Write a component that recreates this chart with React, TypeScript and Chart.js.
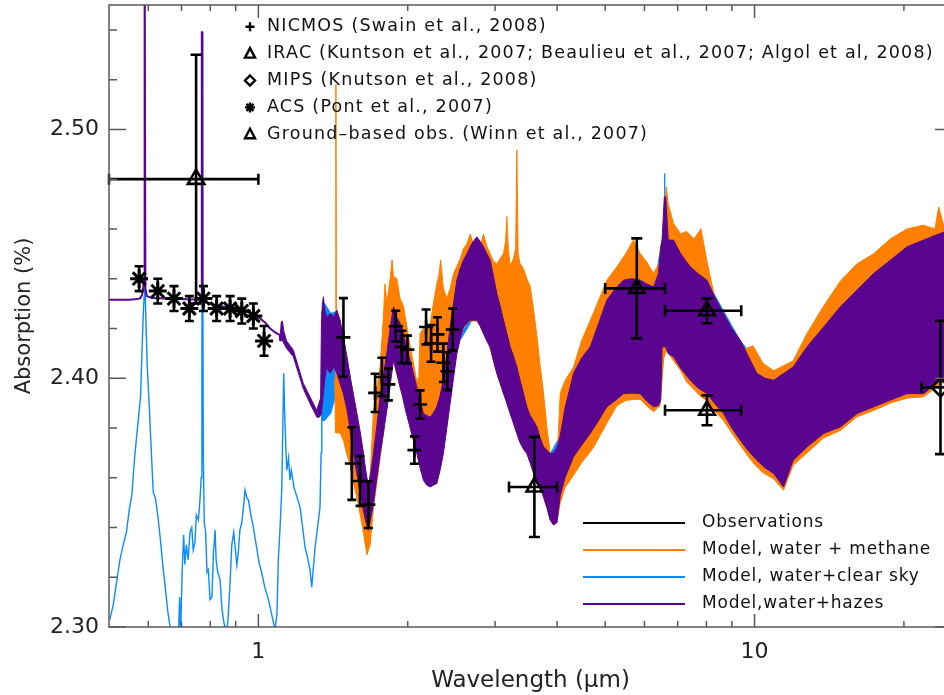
import React, { useEffect, useRef } from 'react';
import { Chart, registerables } from 'chart.js';

Chart.register(...registerables);

// ---------------- axes ----------------
const X_TICKS = [0.6, 0.7, 0.8, 0.9, 1, 2, 3, 4, 5, 6, 7, 8, 9, 10, 20];
const X_LABELED = [1, 10];
const Y_TICKS = [2.30, 2.31, 2.32, 2.33, 2.34, 2.35, 2.36, 2.37, 2.38, 2.39, 2.40, 2.41, 2.42, 2.43, 2.44, 2.45, 2.46, 2.47, 2.48, 2.49, 2.50, 2.51, 2.52, 2.53, 2.54];
const Y_LABELED = [2.30, 2.35, 2.40, 2.45, 2.50];

// ---------------- observations ----------------
const NICMOS_WL = [1.484, 1.543, 1.603, 1.666, 1.719, 1.774, 1.828, 1.892, 1.946, 1.997, 2.063, 2.118, 2.178, 2.229, 2.296, 2.360, 2.404, 2.465];
const NICMOS_ABS = [2.4164, 2.3657, 2.3587, 2.3492, 2.3941, 2.4005, 2.3975, 2.4209, 2.4126, 2.4115, 2.3711, 2.3894, 2.4206, 2.4140, 2.4176, 2.4062, 2.4028, 2.4196];
const NICMOS_ERR = [0.0158, 0.0146, 0.0100, 0.0094, 0.0077, 0.0077, 0.0064, 0.0062, 0.0065, 0.0056, 0.0055, 0.0057, 0.0070, 0.0074, 0.0069, 0.0077, 0.0076, 0.0084];

const ACS_WL = [0.575, 0.627, 0.676, 0.726, 0.775, 0.824, 0.877, 0.926, 0.977, 1.027];
const ACS_ABS = [2.440, 2.435, 2.432, 2.428, 2.432, 2.428, 2.428, 2.427, 2.425, 2.415];
const ACS_ERR = [0.005, 0.005, 0.005, 0.005, 0.005, 0.005, 0.005, 0.005, 0.005, 0.006];

const IRAC_WL = [3.60, 5.79, 8.02, 8.02];
const IRAC_ABS = [2.3563, 2.4361, 2.4271, 2.3871];
const IRAC_ERR = [0.0201, 0.0201, 0.0050, 0.0060];
const IRAC_XLO = [3.20, 5.00, 6.60, 6.60];
const IRAC_XHI = [4.00, 6.60, 9.40, 9.40];

const MIPS_WL = [23.7];
const MIPS_ABS = [2.3963];
const MIPS_ERR = [0.0268];
const MIPS_XLO = [21.7];
const MIPS_XHI = [26.0];

const GB_WL = [0.749];
const GB_ABS = [2.480];
const GB_ERR = [0.050];
const GB_XLO = [0.50];
const GB_XHI = [1.00];

// ---------------- model: water + hazes (purple) ----------------
const PURPLE_LINE_WL = [0.50, 0.55, 0.570, 0.578, 0.583, 0.586, 0.5885, 0.5895, 0.5905, 0.592, 0.596, 0.61, 0.65, 0.70, 0.74, 0.765, 0.768, 0.7692, 0.7700, 0.7715, 0.78, 0.824, 0.86, 0.93, 0.99, 1.03, 1.056, 1.08, 1.10];
const PURPLE_LINE_ABS = [2.4315, 2.4315, 2.4318, 2.4322, 2.4335, 2.4365, 2.440, 2.56, 2.56, 2.436, 2.4330, 2.4322, 2.4320, 2.4318, 2.4316, 2.4314, 2.4320, 2.539, 2.539, 2.4312, 2.4305, 2.4293, 2.4285, 2.4273, 2.4253, 2.4225, 2.4200, 2.4185, 2.4175];

const PURPLE_WL = [1.100, 1.108, 1.112, 1.118, 1.125, 1.140, 1.176, 1.232, 1.271, 1.300, 1.311, 1.325, 1.335, 1.340, 1.346, 1.352, 1.362, 1.374, 1.385, 1.395, 1.420, 1.439, 1.461, 1.484, 1.510, 1.531, 1.555, 1.579, 1.605, 1.628, 1.648, 1.666, 1.685, 1.706, 1.733, 1.760, 1.787, 1.815, 1.843, 1.872, 1.901, 1.946, 1.980, 2.022, 2.053, 2.086, 2.118, 2.151, 2.185, 2.220, 2.253, 2.289, 2.324, 2.360, 2.398, 2.435, 2.473, 2.512, 2.551, 2.590, 2.632, 2.672, 2.713, 2.756, 2.799, 2.842, 2.887, 2.932, 2.977, 3.024, 3.071, 3.119, 3.168, 3.217, 3.266, 3.319, 3.370, 3.422, 3.476, 3.530, 3.584, 3.642, 3.698, 3.756, 3.816, 3.874, 3.936, 3.997, 4.059, 4.150, 4.317, 4.480, 4.665, 4.850, 5.040, 5.240, 5.444, 5.660, 5.884, 6.050, 6.260, 6.400, 6.470, 6.510, 6.580, 6.620, 6.700, 6.866, 7.100, 7.420, 7.700, 8.017, 8.300, 8.660, 9.000, 9.359, 9.700, 10.11, 10.50, 10.93, 11.44, 11.96, 12.76, 13.78, 14.89, 16.09, 17.38, 18.78, 20.29, 21.91, 23.68, 25.00];
const PURPLE_TOP = [2.4175, 2.4180, 2.4226, 2.4230, 2.4190, 2.4150, 2.4113, 2.3979, 2.3925, 2.3885, 2.3871, 2.3900, 2.3920, 2.4220, 2.4300, 2.4327, 2.4270, 2.4246, 2.4250, 2.4260, 2.4246, 2.4273, 2.4233, 2.4166, 2.4080, 2.4005, 2.3930, 2.3858, 2.3780, 2.3697, 2.3620, 2.3563, 2.3620, 2.3697, 2.3810, 2.3925, 2.4010, 2.4099, 2.4200, 2.4287, 2.4246, 2.4206, 2.4140, 2.4072, 2.4020, 2.3965, 2.3910, 2.3858, 2.3850, 2.3844, 2.3860, 2.3885, 2.3930, 2.3992, 2.4100, 2.4206, 2.4300, 2.4394, 2.4440, 2.4474, 2.4500, 2.4528, 2.4550, 2.4568, 2.4550, 2.4528, 2.4500, 2.4474, 2.4410, 2.4341, 2.4290, 2.4233, 2.4180, 2.4126, 2.4090, 2.4045, 2.3990, 2.3940, 2.3885, 2.3850, 2.3830, 2.3804, 2.3760, 2.3724, 2.3710, 2.3697, 2.3700, 2.3720, 2.3770, 2.3880, 2.4019, 2.4080, 2.4126, 2.4220, 2.4314, 2.4360, 2.4394, 2.4400, 2.4394, 2.4380, 2.4367, 2.4420, 2.4528, 2.4555, 2.4729, 2.4729, 2.4555, 2.4555, 2.4500, 2.4448, 2.4420, 2.4394, 2.4330, 2.4260, 2.4200, 2.4153, 2.4090, 2.4019, 2.4000, 2.3992, 2.4019, 2.4045, 2.4126, 2.4206, 2.4287, 2.4354, 2.4421, 2.4474, 2.4528, 2.4555, 2.4582, 2.4600];
const PURPLE_BOT = [2.4155, 2.4150, 2.4150, 2.4153, 2.4140, 2.4120, 2.4086, 2.3958, 2.3898, 2.3860, 2.3844, 2.3842, 2.3850, 2.3859, 2.3900, 2.3938, 2.4000, 2.4045, 2.4030, 2.4020, 2.4045, 2.4020, 2.3979, 2.3938, 2.3870, 2.3791, 2.3700, 2.3617, 2.3540, 2.3469, 2.3420, 2.3389, 2.3440, 2.3496, 2.3600, 2.3697, 2.3780, 2.3871, 2.3970, 2.4072, 2.4019, 2.3938, 2.3870, 2.3804, 2.3750, 2.3697, 2.3640, 2.3590, 2.3570, 2.3563, 2.3570, 2.3577, 2.3630, 2.3697, 2.3800, 2.3898, 2.4000, 2.4099, 2.4160, 2.4206, 2.4220, 2.4233, 2.4233, 2.4233, 2.4210, 2.4180, 2.4150, 2.4126, 2.4070, 2.4019, 2.3980, 2.3938, 2.3900, 2.3858, 2.3820, 2.3778, 2.3740, 2.3715, 2.3697, 2.3660, 2.3620, 2.3590, 2.3560, 2.3523, 2.3480, 2.3429, 2.3410, 2.3420, 2.3530, 2.3600, 2.3684, 2.3730, 2.3778, 2.3830, 2.3885, 2.3910, 2.3938, 2.3940, 2.3938, 2.3910, 2.3885, 2.3890, 2.3912, 2.4126, 2.4126, 2.4126, 2.4099, 2.4086, 2.4040, 2.3992, 2.3960, 2.3938, 2.3900, 2.3858, 2.3800, 2.3751, 2.3710, 2.3670, 2.3640, 2.3617, 2.3563, 2.3670, 2.3724, 2.3778, 2.3804, 2.3858, 2.3885, 2.3912, 2.3938, 2.3938, 2.3992, 2.4000];

// ---------------- model: water + methane (orange) ----------------
const ORANGE_WL = [1.425, 1.430, 1.433, 1.436, 1.461, 1.484, 1.505, 1.531, 1.555, 1.579, 1.605, 1.628, 1.655, 1.680, 1.706, 1.733, 1.760, 1.787, 1.800, 1.815, 1.843, 1.860, 1.872, 1.901, 1.930, 1.961, 2.022, 2.086, 2.105, 2.118, 2.151, 2.185, 2.220, 2.253, 2.289, 2.310, 2.330, 2.360, 2.398, 2.435, 2.473, 2.512, 2.551, 2.590, 2.632, 2.672, 2.713, 2.756, 2.799, 2.842, 2.887, 2.932, 2.977, 3.024, 3.071, 3.119, 3.150, 3.168, 3.190, 3.217, 3.266, 3.300, 3.319, 3.338, 3.370, 3.422, 3.476, 3.530, 3.584, 3.642, 3.698, 3.756, 3.816, 3.874, 3.936, 3.997, 4.059, 4.150, 4.317, 4.480, 4.730, 5.040, 5.280, 5.500, 5.700, 5.884, 6.050, 6.260, 6.450, 6.560, 6.640, 6.700, 6.866, 7.100, 7.300, 7.550, 7.800, 8.017, 8.300, 8.660, 9.000, 9.359, 9.930, 10.40, 10.93, 11.44, 11.96, 12.76, 13.78, 14.89, 16.09, 17.38, 18.78, 20.29, 21.91, 23.10, 23.50, 24.00, 25.00];
const ORANGE_TOP = [2.4240, 2.4250, 2.5180, 2.4280, 2.4230, 2.4120, 2.4060, 2.4000, 2.3930, 2.3860, 2.3780, 2.3700, 2.3560, 2.3600, 2.3870, 2.3960, 2.4050, 2.4250, 2.4380, 2.4300, 2.4400, 2.4475, 2.4410, 2.4400, 2.4320, 2.4290, 2.4130, 2.3990, 2.4000, 2.4180, 2.4200, 2.4190, 2.4220, 2.4300, 2.4380, 2.4410, 2.4475, 2.4360, 2.4320, 2.4360, 2.4420, 2.4450, 2.4480, 2.4520, 2.4540, 2.4580, 2.4540, 2.4550, 2.4530, 2.4580, 2.4530, 2.4500, 2.4470, 2.4460, 2.4480, 2.4500, 2.4550, 2.4650, 2.4520, 2.4450, 2.4480, 2.4520, 2.4917, 2.4500, 2.4460, 2.4440, 2.4400, 2.4370, 2.4280, 2.4170, 2.4050, 2.3940, 2.3800, 2.3700, 2.3660, 2.3660, 2.3940, 2.3990, 2.4045, 2.4150, 2.4260, 2.4394, 2.4448, 2.4500, 2.4555, 2.4501, 2.4470, 2.4421, 2.4470, 2.4600, 2.4769, 2.4700, 2.4622, 2.4580, 2.4590, 2.4560, 2.4600, 2.4470, 2.4330, 2.4200, 2.4160, 2.4110, 2.4130, 2.4060, 2.4030, 2.4050, 2.4070, 2.4180, 2.4290, 2.4390, 2.4460, 2.4500, 2.4560, 2.4600, 2.4615, 2.4600, 2.4689, 2.4620, 2.4620];
const ORANGE_BOT = [2.4000, 2.3800, 2.3780, 2.3780, 2.3780, 2.3750, 2.3700, 2.3650, 2.3580, 2.3520, 2.3450, 2.3380, 2.3290, 2.3330, 2.3480, 2.3580, 2.3680, 2.3780, 2.3850, 2.3880, 2.3970, 2.4050, 2.4070, 2.4020, 2.3960, 2.3920, 2.3800, 2.3700, 2.3700, 2.3750, 2.3750, 2.3760, 2.3780, 2.3780, 2.3780, 2.3790, 2.3800, 2.3850, 2.3900, 2.3950, 2.4050, 2.4100, 2.4160, 2.4200, 2.4220, 2.4230, 2.4230, 2.4230, 2.4210, 2.4180, 2.4150, 2.4120, 2.4070, 2.4020, 2.3980, 2.3940, 2.3920, 2.3900, 2.3880, 2.3860, 2.3820, 2.3790, 2.3780, 2.3760, 2.3740, 2.3720, 2.3700, 2.3660, 2.3620, 2.3590, 2.3560, 2.3520, 2.3480, 2.3430, 2.3410, 2.3420, 2.3500, 2.3560, 2.3610, 2.3660, 2.3720, 2.3820, 2.3890, 2.3910, 2.3915, 2.3915, 2.3890, 2.3865, 2.3890, 2.4080, 2.4110, 2.4100, 2.4070, 2.4030, 2.3985, 2.3955, 2.3925, 2.3910, 2.3870, 2.3830, 2.3780, 2.3730, 2.3660, 2.3620, 2.3595, 2.3550, 2.3650, 2.3700, 2.3760, 2.3790, 2.3845, 2.3870, 2.3900, 2.3920, 2.3925, 2.3960, 2.3970, 2.3985, 2.3990];

// ---------------- model: water + clear sky (blue) ----------------
const BLUE_LINE_WL = [0.502, 0.510, 0.518, 0.526, 0.534, 0.542, 0.550, 0.556, 0.562, 0.568, 0.574, 0.579, 0.583, 0.586, 0.5885, 0.5895, 0.5905, 0.592, 0.597, 0.603, 0.607, 0.614, 0.620, 0.627, 0.634, 0.641, 0.649, 0.657, 0.664, 0.672, 0.682, 0.690, 0.694, 0.697, 0.702, 0.707, 0.711, 0.716, 0.722, 0.728, 0.734, 0.739, 0.745, 0.750, 0.757, 0.762, 0.767, 0.7695, 0.7705, 0.7725, 0.7745, 0.778, 0.783, 0.788, 0.793, 0.799, 0.806, 0.812, 0.818, 0.822, 0.828, 0.837, 0.845, 0.852, 0.860, 0.868, 0.876, 0.884, 0.892, 0.898, 0.905, 0.911, 0.918, 0.926, 0.933, 0.940, 0.948, 0.955, 0.966, 0.977, 0.990, 1.003, 1.015, 1.030, 1.048, 1.064, 1.080, 1.090, 1.097, 1.106, 1.115, 1.120, 1.125, 1.130, 1.136, 1.141, 1.150, 1.158, 1.165, 1.180, 1.197, 1.214, 1.228, 1.242, 1.256, 1.271, 1.281, 1.291, 1.301, 1.316, 1.331, 1.338, 1.342, 1.347, 1.352];
const BLUE_LINE_ABS = [2.303, 2.309, 2.318, 2.327, 2.333, 2.338, 2.348, 2.353, 2.366, 2.376, 2.385, 2.393, 2.412, 2.425, 2.433, 2.56, 2.56, 2.431, 2.405, 2.388, 2.375, 2.354, 2.352, 2.345, 2.336, 2.326, 2.316, 2.306, 2.300, 2.295, 2.292, 2.296, 2.312, 2.296, 2.322, 2.337, 2.325, 2.333, 2.327, 2.338, 2.340, 2.331, 2.334, 2.345, 2.343, 2.350, 2.360, 2.400, 2.539, 2.539, 2.370, 2.342, 2.338, 2.322, 2.323, 2.311, 2.312, 2.330, 2.339, 2.327, 2.322, 2.319, 2.307, 2.302, 2.298, 2.302, 2.316, 2.333, 2.338, 2.332, 2.325, 2.330, 2.339, 2.342, 2.348, 2.355, 2.352, 2.351, 2.345, 2.340, 2.333, 2.326, 2.322, 2.316, 2.311, 2.305, 2.299, 2.305, 2.327, 2.340, 2.356, 2.380, 2.402, 2.385, 2.372, 2.363, 2.368, 2.359, 2.363, 2.356, 2.352, 2.348, 2.340, 2.332, 2.328, 2.323, 2.316, 2.324, 2.332, 2.340, 2.348, 2.370, 2.383, 2.420, 2.430];

const BLUE_WL = [1.340, 1.360, 1.400, 1.440, 1.484, 1.579, 1.666, 1.760, 1.872, 2.022, 2.151, 2.220, 2.360, 2.512, 2.756, 3.024, 3.319, 3.642, 3.874, 4.059, 4.665, 5.444, 5.884, 6.260, 6.470, 6.575, 6.590, 6.605, 6.700, 8.017, 9.359, 10.93, 12.76, 16.09, 20.29, 23.68, 25.00];
const BLUE_TOP = [2.4260, 2.4300, 2.4260, 2.4270, 2.4160, 2.3855, 2.3560, 2.3920, 2.4280, 2.4070, 2.3855, 2.3840, 2.3990, 2.4390, 2.4565, 2.4340, 2.4045, 2.3800, 2.3695, 2.3770, 2.4120, 2.4390, 2.4390, 2.4360, 2.4520, 2.4600, 2.4823, 2.4600, 2.4520, 2.4390, 2.4150, 2.3990, 2.4120, 2.4350, 2.4525, 2.4580, 2.4600];
const BLUE_BOT = [2.3830, 2.3830, 2.3860, 2.3950, 2.3970, 2.3650, 2.3420, 2.3730, 2.4100, 2.3840, 2.3620, 2.3600, 2.3730, 2.4130, 2.4265, 2.4050, 2.3810, 2.3620, 2.3460, 2.3560, 2.3810, 2.3970, 2.3970, 2.3920, 2.3940, 2.4150, 2.4150, 2.4150, 2.4130, 2.3970, 2.3780, 2.3650, 2.3750, 2.3890, 2.3970, 2.4020, 2.4030];

// ---------------- legends ----------------
const TOP_LEGEND = [
  'NICMOS (Swain et al., 2008)',
  'IRAC (Kuntson et al., 2007; Beaulieu et al., 2007; Algol et al, 2008)',
  'MIPS (Knutson et al., 2008)',
  'ACS (Pont et al., 2007)',
  'Ground\u2013based obs. (Winn et al., 2007)',
];
const TOP_SYMBOLS = ['cross', 'triangle', 'diamond', 'star', 'triangle'];
const MODEL_LEGEND = ['Observations', 'Model, water + methane', 'Model, water+clear sky', 'Model,water+hazes'];

const ORANGE = '#ff7f00';
const BLUE = '#0a8cff';
const PURPLE = '#5a058f';
const MODEL_COLORS = ['#000000', ORANGE, BLUE, PURPLE];
const FONT = "'DejaVu Sans', sans-serif";

const pts = (xs: number[], ys: number[]) => xs.map((x, i) => ({ x, y: ys[i] }));

function bandSets(wl: number[], top: number[], bot: number[], color: string, order: number) {
  return [
    { data: pts(wl, top), borderColor: color, backgroundColor: color, borderWidth: 1, pointRadius: 0, fill: '+1', order, tension: 0 },
    { data: pts(wl, bot), borderColor: color, backgroundColor: color, borderWidth: 1, pointRadius: 0, fill: false, order, tension: 0 },
  ];
}

function obsSet(wl: number[], ab: number[], style: string, radius: number, bw: number) {
  return {
    data: pts(wl, ab), showLine: false, pointStyle: style, pointRadius: radius,
    pointBorderWidth: bw, pointBorderColor: '#000', pointBackgroundColor: 'rgba(0,0,0,0)',
    borderColor: '#000', backgroundColor: 'rgba(0,0,0,0)', order: 0,
  };
}

const OBS_GROUPS = [
  { wl: NICMOS_WL, ab: NICMOS_ABS, ye: NICMOS_ERR, cap: 4.5 },
  { wl: ACS_WL, ab: ACS_ABS, ye: ACS_ERR, cap: 4.5 },
  { wl: IRAC_WL, ab: IRAC_ABS, ye: IRAC_ERR, xlo: IRAC_XLO, xhi: IRAC_XHI, cap: 5.5 },
  { wl: MIPS_WL, ab: MIPS_ABS, ye: MIPS_ERR, xlo: MIPS_XLO, xhi: MIPS_XHI, cap: 5.5 },
  { wl: GB_WL, ab: GB_ABS, ye: GB_ERR, xlo: GB_XLO, xhi: GB_XHI, cap: 5.5 },
];

function drawSymbol(ctx: CanvasRenderingContext2D, kind: string, x: number, y: number) {
  ctx.beginPath();
  if (kind === 'cross') {
    ctx.moveTo(x - 4.5, y); ctx.lineTo(x + 4.5, y);
    ctx.moveTo(x, y - 4.5); ctx.lineTo(x, y + 4.5);
  } else if (kind === 'triangle') {
    ctx.moveTo(x, y - 5.5); ctx.lineTo(x + 5, y + 4); ctx.lineTo(x - 5, y + 4); ctx.closePath();
  } else if (kind === 'diamond') {
    ctx.moveTo(x, y - 5); ctx.lineTo(x + 5, y); ctx.lineTo(x, y + 5); ctx.lineTo(x - 5, y); ctx.closePath();
  } else if (kind === 'star') {
    for (let k = 0; k < 4; k++) {
      const a = (k * Math.PI) / 4;
      ctx.moveTo(x - 5 * Math.cos(a), y - 5 * Math.sin(a));
      ctx.lineTo(x + 5 * Math.cos(a), y + 5 * Math.sin(a));
    }
  }
  ctx.stroke();
}

const errorBarsPlugin = {
  id: 'errorBars',
  afterDatasetsDraw(chart: any) {
    const { ctx, scales } = chart;
    const xs = scales.x, ys = scales.y;
    ctx.save();
    ctx.strokeStyle = '#000';
    ctx.lineWidth = 2.6;
    ctx.lineCap = 'butt';
    OBS_GROUPS.forEach((g: any) => {
      g.wl.forEach((w: number, i: number) => {
        const px = xs.getPixelForValue(w);
        const py = ys.getPixelForValue(g.ab[i]);
        const top = ys.getPixelForValue(g.ab[i] + g.ye[i]);
        const bot = ys.getPixelForValue(g.ab[i] - g.ye[i]);
        ctx.beginPath();
        ctx.moveTo(px, top); ctx.lineTo(px, bot);
        ctx.moveTo(px - g.cap, top); ctx.lineTo(px + g.cap, top);
        ctx.moveTo(px - g.cap, bot); ctx.lineTo(px + g.cap, bot);
        if (g.xlo) {
          const l = xs.getPixelForValue(g.xlo[i]);
          const r = xs.getPixelForValue(g.xhi[i]);
          ctx.moveTo(l, py); ctx.lineTo(r, py);
          ctx.moveTo(l, py - g.cap); ctx.lineTo(l, py + g.cap);
          ctx.moveTo(r, py - g.cap); ctx.lineTo(r, py + g.cap);
        }
        ctx.stroke();
      });
    });
    ctx.restore();
  },
};

const framePlugin = {
  id: 'frameAndLegends',
  afterDraw(chart: any) {
    const { ctx, chartArea, scales } = chart;
    const { left, right, top, bottom } = chartArea;
    ctx.save();
    ctx.strokeStyle = '#5a5a5a';
    ctx.lineWidth = 1.5;
    ctx.strokeRect(left, top, right - left, bottom - top);
    ctx.beginPath();
    scales.x.ticks.forEach((t: any) => {
      const px = scales.x.getPixelForValue(t.value);
      const len = X_LABELED.includes(t.value) ? 13 : 6;
      ctx.moveTo(px, bottom); ctx.lineTo(px, bottom - len);
      ctx.moveTo(px, top); ctx.lineTo(px, top + len);
    });
    scales.y.ticks.forEach((t: any) => {
      const py = scales.y.getPixelForValue(t.value);
      const len = Y_LABELED.some((v) => Math.abs(v - t.value) < 1e-6) ? 17 : 8;
      ctx.moveTo(left, py); ctx.lineTo(left + len, py);
      ctx.moveTo(right, py); ctx.lineTo(right - len, py);
    });
    ctx.stroke();

    // top legend (observations)
    ctx.fillStyle = '#111';
    ctx.strokeStyle = '#000';
    ctx.lineWidth = 2.4;
    ctx.textAlign = 'left';
    ctx.textBaseline = 'middle';
    ctx.font = `17.5px ${FONT}`;
    (ctx as any).letterSpacing = '1.2px';
    TOP_LEGEND.forEach((txt, i) => {
      const yy = 26.7 + i * 26.9;
      drawSymbol(ctx, TOP_SYMBOLS[i], 250, yy);
      ctx.fillText(txt, 267, yy);
    });

    // model legend
    ctx.font = `17px ${FONT}`;
    (ctx as any).letterSpacing = '0.8px';
    MODEL_LEGEND.forEach((txt, i) => {
      const yy = 523 + i * 27;
      ctx.strokeStyle = MODEL_COLORS[i];
      ctx.lineWidth = 2;
      ctx.beginPath();
      ctx.moveTo(583, yy); ctx.lineTo(685, yy);
      ctx.stroke();
      ctx.fillText(txt, 702, yy);
    });
    (ctx as any).letterSpacing = '0px';
    ctx.restore();
  },
};

export default function App() {
  const ref = useRef<HTMLCanvasElement>(null);

  useEffect(() => {
    if (!ref.current) return;
    const datasets: any[] = [
      obsSet(NICMOS_WL, NICMOS_ABS, 'cross', 7, 2.6),
      obsSet(ACS_WL, ACS_ABS, 'star', 9, 3),
      obsSet(IRAC_WL, IRAC_ABS, 'triangle', 9, 2.6),
      obsSet(MIPS_WL, MIPS_ABS, 'rectRot', 9, 2.6),
      obsSet(GB_WL, GB_ABS, 'triangle', 9.5, 2.6),
      { data: pts(PURPLE_LINE_WL, PURPLE_LINE_ABS), borderColor: PURPLE, borderWidth: 2, pointRadius: 0, fill: false, order: 1, tension: 0 },
      ...bandSets(PURPLE_WL, PURPLE_TOP, PURPLE_BOT, PURPLE, 1),
      ...bandSets(ORANGE_WL, ORANGE_TOP, ORANGE_BOT, ORANGE, 2),
      { data: pts(BLUE_LINE_WL, BLUE_LINE_ABS), borderColor: BLUE, borderWidth: 1.4, pointRadius: 0, fill: false, order: 3, tension: 0 },
      ...bandSets(BLUE_WL, BLUE_TOP, BLUE_BOT, BLUE, 3),
    ];

    const tickFont = { family: FONT, size: 22 };
    const chart = new Chart(ref.current, {
      type: 'line',
      data: { datasets },
      plugins: [errorBarsPlugin, framePlugin],
      options: {
        responsive: false,
        animation: false,
        devicePixelRatio: 1,
        layout: { autoPadding: false, padding: { top: 5, right: 8, left: 0, bottom: 0 } },
        plugins: { legend: { display: false }, tooltip: { enabled: false } },
        scales: {
          x: {
            type: 'logarithmic',
            min: 0.5,
            max: 25,
            afterBuildTicks: (s: any) => { s.ticks = X_TICKS.map((v) => ({ value: v })); },
            afterFit: (s: any) => { s.height = 68; s.paddingLeft = 0; s.paddingRight = 0; },
            grid: { display: false, drawTicks: false },
            border: { display: false },
            ticks: {
              autoSkip: false, maxRotation: 0, padding: 12, font: tickFont, color: '#222',
              callback: (v: any) => (X_LABELED.includes(Number(v)) ? String(v) : ''),
            },
            title: { display: true, text: 'Wavelength (\u03bcm)', font: { family: FONT, size: 23 }, color: '#222', padding: { top: 0, bottom: 0 } },
          },
          y: {
            type: 'linear',
            min: 2.30,
            max: 2.55,
            afterBuildTicks: (s: any) => { s.ticks = Y_TICKS.map((v) => ({ value: v })); },
            afterFit: (s: any) => { s.width = 109; s.paddingTop = 0; s.paddingBottom = 0; },
            grid: { display: false, drawTicks: false },
            border: { display: false },
            ticks: {
              padding: 10, font: tickFont, color: '#222',
              callback: (v: any) => (Y_LABELED.some((l) => Math.abs(l - Number(v)) < 1e-6) ? Number(v).toFixed(2) : ''),
            },
            title: { display: true, text: 'Absorption (%)', font: { family: FONT, size: 21 }, color: '#222', padding: { top: 12, bottom: 0 } },
          },
        },
      } as any,
    });
    return () => chart.destroy();
  }, []);

  return (
    <div style={{ position: 'fixed', left: 0, top: 0, width: 944, height: 695, overflow: 'hidden', background: '#ffffff' }}>
      <canvas ref={ref} width={960} height={695} style={{ display: 'block', width: 960, height: 695 }} />
    </div>
  );
}
